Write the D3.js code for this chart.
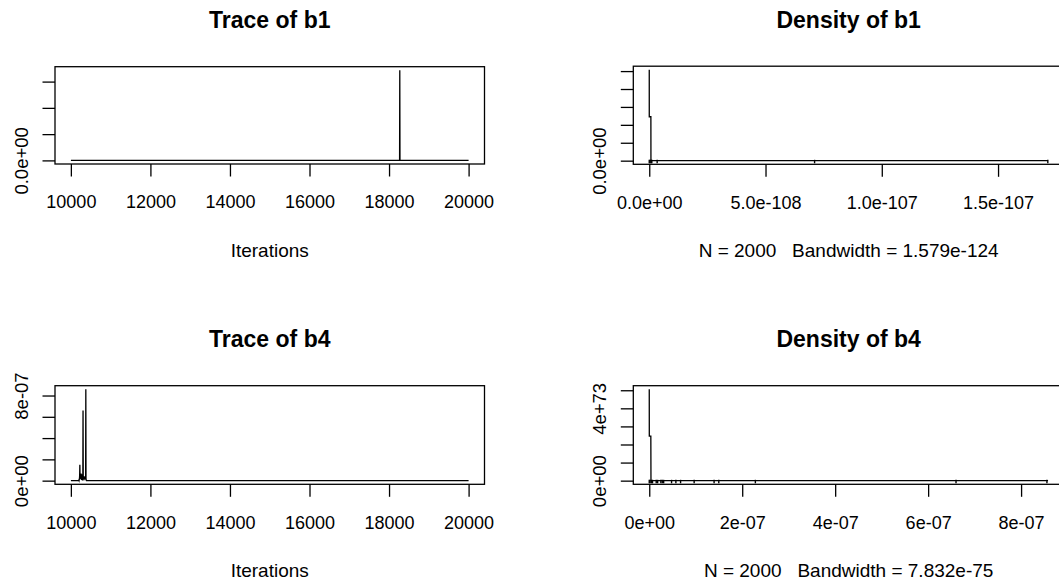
<!DOCTYPE html>
<html>
<head>
<meta charset="utf-8">
<script src="https://cdn.jsdelivr.net/npm/d3@7.9.0/dist/d3.min.js"></script>
<style>
  body { margin: 0; background: #fff; }
  text { font-family: "Liberation Sans", Arial, sans-serif; fill: #000; }
</style>
</head>
<body>
<svg id="chart" width="1059" height="582"></svg>
<script>
// ---- data ----
// trace of b1 (iteration, value)
const b1TraceIter = [10001, 18265, 18270, 18275, 20000];
const b1TraceVal  = [0, 0, 1.715e-107, 0, 0];
// trace of b4
const b4TraceIter = [10001, 10196, 10201, 10206, 10216, 10221, 10226, 10231, 10241, 10246, 10251, 10256,
  10261, 10266, 10271, 10276, 10281, 10286, 10291, 10296, 10301, 10306, 10311, 10321, 10331, 10341,
  10351, 10361, 10371, 10376, 10381, 10386, 10391, 20000];
const b4TraceVal  = [0, 0, 0.05e-7, 0, 0.18e-7, 0.48e-7, 1.49e-7, 0.31e-7, 0.25e-7, 0.58e-7, 0.28e-7, 0.68e-7,
  0.15e-7, 0.31e-7, 0.07e-7, 0.27e-7, 0.6e-7, 0.3e-7, 0.02e-7, 0.25e-7, 0.15e-7, 6.6e-7, 0.3e-7, 0.2e-7, 0.4e-7, 0.28e-7,
  0.18e-7, 0.3e-7, 0.22e-7, 8.58e-7, 0.2e-7, 0.05e-7, 0, 0];

// density of b1
const b1DensX = [0, 1e-111, 7e-110, 7.3e-110, 1.715e-107];
const b1DensY = [1.014e123, 4.9e122, 4.9e122, 0, 0];
const b1Rug   = [0, 4e-110, 8e-110, 1.1e-109, 3.4e-109, 7.11e-108, 1.714e-107];
// density of b4
const b4DensX = [0, 1e-10, 3.4e-9, 3.7e-9, 8.58e-7];
const b4DensY = [5.05e73, 2.46e73, 2.46e73, 0, 0];
const b4Rug   = [0, 0.02e-7, 0.05e-7, 0.07e-7, 0.15e-7, 0.18e-7, 0.25e-7, 0.28e-7, 0.31e-7, 0.48e-7,
  0.573e-7, 0.674e-7, 0.966e-7, 1.395e-7, 1.496e-7, 2.283e-7, 6.6e-7, 8.556e-7];

// ticks (labels R left out are empty)
const iterTicks  = [10000, 12000, 14000, 16000, 18000, 20000];
const iterLabels = ["10000", "12000", "14000", "16000", "18000", "20000"];
const b1TraceYTicks  = [0, 5e-108, 1e-107, 1.5e-107];
const b1TraceYLabels = ["0.0e+00", "", "", ""];
const b4TraceYTicks  = [0, 2e-7, 4e-7, 6e-7, 8e-7];
const b4TraceYLabels = ["0e+00", "", "", "", "8e-07"];
const b1DensXTicks  = [0, 5e-108, 1e-107, 1.5e-107];
const b1DensXLabels = ["0.0e+00", "5.0e-108", "1.0e-107", "1.5e-107"];
const b1DensYTicks  = [0, 2e122, 4e122, 6e122, 8e122, 1e123];
const b1DensYLabels = ["0.0e+00", "", "", "", "", ""];
const b4DensXTicks  = [0, 2e-7, 4e-7, 6e-7, 8e-7];
const b4DensXLabels = ["0e+00", "2e-07", "4e-07", "6e-07", "8e-07"];
const b4DensYTicks  = [0, 1e73, 2e73, 3e73, 4e73, 5e73];
const b4DensYLabels = ["0e+00", "", "", "", "4e+73", ""];

const svg = d3.select('#chart');

// R style axis range: data range plus 4% each side
function ext(vals) {
  let [lo, hi] = d3.extent(vals);
  let r = hi - lo;
  return [lo - 0.04 * r, hi + 0.04 * r];
}

function drawPanel(p) {
  let g = svg.append('g');
  let x = d3.scaleLinear().domain(ext(p.xs)).range([p.left, p.right]);
  let y = d3.scaleLinear().domain(ext(p.ys)).range([p.bottom, p.top]);

  // x axis
  let xa = g.append('g')
    .attr('transform', `translate(0,${p.bottom})`)
    .call(d3.axisBottom(x).tickValues(p.xTicks)
      .tickFormat((d, i) => p.xLabels[i]).tickSize(12.5).tickSizeOuter(0).tickPadding(19));
  xa.select('.domain').remove();
  xa.selectAll('line').attr('stroke', '#000').attr('stroke-width', 1.3);
  xa.selectAll('text').style('font-size', '18px')
    .style('font-family', '"Liberation Sans", Arial, sans-serif');

  // y axis, labels turned like R
  let ya = g.append('g')
    .attr('transform', `translate(${p.left},0)`)
    .call(d3.axisLeft(y).tickValues(p.yTicks)
      .tickFormat((d, i) => p.yLabels[i]).tickSize(12.5).tickSizeOuter(0));
  ya.select('.domain').remove();
  ya.selectAll('line').attr('stroke', '#000').attr('stroke-width', 1.3);
  ya.selectAll('text')
    .attr('transform', 'rotate(-90)')
    .attr('x', 0).attr('y', -27.5).attr('dy', 0)
    .attr('text-anchor', 'middle')
    .style('font-size', '18.5px')
    .style('font-family', '"Liberation Sans", Arial, sans-serif');

  // data line
  let pts = p.xs.map((v, i) => [v, p.ys[i]]);
  g.append('path')
    .attr('d', d3.line().x(d => x(d[0])).y(d => y(d[1]))(pts))
    .attr('fill', 'none').attr('stroke', '#000').attr('stroke-width', 1.3);

  // rug
  if (p.rug) {
    g.selectAll('.rug').data(p.rug).enter().append('line')
      .attr('x1', d => x(d)).attr('x2', d => x(d))
      .attr('y1', p.bottom - 1).attr('y2', p.bottom - 4.5)
      .attr('stroke', '#000').attr('stroke-width', 1.4);
  }

  // box
  g.append('rect')
    .attr('x', p.left).attr('y', p.top)
    .attr('width', p.right - p.left).attr('height', p.bottom - p.top)
    .attr('fill', 'none').attr('stroke', '#000').attr('stroke-width', 1.3);

  let cx = (p.left + p.right) / 2;
  g.append('text')
    .attr('x', cx).attr('y', p.top - 38.5)
    .attr('text-anchor', 'middle')
    .style('font-size', '23px').style('font-weight', 'bold')
    .text(p.title);
  g.append('text')
    .attr('x', cx).attr('y', p.bottom + 93)
    .attr('text-anchor', 'middle')
    .style('font-size', '19px').style('white-space', 'pre')
    .text(p.sub);
}

drawPanel({ left: 55, right: 484.5, top: 66.7, bottom: 164,
  xs: b1TraceIter, ys: b1TraceVal, xTicks: iterTicks, xLabels: iterLabels,
  yTicks: b1TraceYTicks, yLabels: b1TraceYLabels,
  title: 'Trace of b1', sub: 'Iterations' });

drawPanel({ left: 633.3, right: 1064, top: 66.2, bottom: 164.3,
  xs: b1DensX, ys: b1DensY, xTicks: b1DensXTicks, xLabels: b1DensXLabels,
  yTicks: b1DensYTicks, yLabels: b1DensYLabels, rug: b1Rug,
  title: 'Density of b1', sub: 'N = 2000   Bandwidth = 1.579e-124' });

drawPanel({ left: 55, right: 484.5, top: 385.7, bottom: 484.3,
  xs: b4TraceIter, ys: b4TraceVal, xTicks: iterTicks, xLabels: iterLabels,
  yTicks: b4TraceYTicks, yLabels: b4TraceYLabels,
  title: 'Trace of b4', sub: 'Iterations' });

drawPanel({ left: 633.3, right: 1064, top: 385.7, bottom: 484.3,
  xs: b4DensX, ys: b4DensY, xTicks: b4DensXTicks, xLabels: b4DensXLabels,
  yTicks: b4DensYTicks, yLabels: b4DensYLabels, rug: b4Rug,
  title: 'Density of b4', sub: 'N = 2000   Bandwidth = 7.832e-75' });
</script>
</body>
</html>
